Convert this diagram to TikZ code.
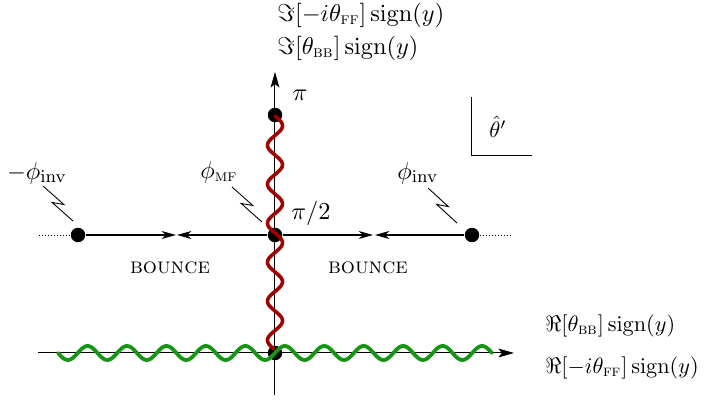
\documentclass[tikz,border=0pt]{standalone}
\usepackage{amsmath}
\usetikzlibrary{arrows.meta,calc}
\definecolor{wred}{RGB}{160,0,0}
\definecolor{wgreen}{RGB}{20,150,20}
\newcommand{\zapline}[2]{\draw[zap] (#1) -- ($(#1)!0.6!(#2)!1.7pt!90:(#2)$) -- ($(#1)!0.4!(#2)!1.7pt!-90:(#2)$) -- (#2);}
\begin{document}
\begin{tikzpicture}[x=0.45pt,y=-0.45pt,
 dot/.style={circle,fill=black,inner sep=0pt,minimum size=6.5pt},
 axis/.style={line width=0.45pt,-{Stealth[length=7pt,width=4pt,inset=1.5pt]}},
 bounce/.style={line width=0.5pt,-{Stealth[length=6.5pt,width=3.6pt,inset=2pt]}},
 lab/.style={inner sep=0pt},
 biglab/.style={inner sep=0pt,anchor=west,font=\fontsize{10.8}{13}\selectfont},
 rlab/.style={inner sep=0pt,anchor=west,font=\fontsize{10.4}{13}\selectfont},
 midlab/.style={inner sep=0pt,font=\fontsize{10.8}{13}\selectfont},
 wave/.style={line join=round,line cap=round},
 zap/.style={line width=0.4pt},
 dotline/.style={line width=0.4pt,dash pattern=on 0.45pt off 0.9pt}]
\useasboundingbox (0,0) rectangle (709,401);
% dots
\node[dot] (pi) at (275,115) {};
\node[dot] (pihalf) at (275,235) {};
\node[dot] (ml) at (78,235) {};
\node[dot] (mr) at (472,235) {};
\node[dot] (o) at (275,353) {};
% axes
\coordinate (xl) at (38,353);
\coordinate (xr) at (514,353);
\coordinate (yb) at (275,395);
\coordinate (yt) at (275,72);
\draw[axis] (xl) -- (xr);
\draw[axis] (yb) -- (yt);
% bounce arrows
\coordinate (b1) at (176,235);
\coordinate (b2) at (177,235);
\coordinate (b3) at (373,235);
\coordinate (b4) at (375,235);
\draw[bounce] (ml) -- (b1);
\draw[bounce] (pihalf) -- (b2);
\draw[bounce] (pihalf) -- (b3);
\draw[bounce] (mr) -- (b4);
% dotted ends
\coordinate (dl) at (38,235);
\coordinate (dr) at (511,235);
\draw[dotline] (ml) -- (dl);
\draw[dotline] (mr) -- (dr);
% waves
\draw[wave,wred,line width=1.6pt] plot[domain=116:349,samples=240] ({275+7.5*sin((\x-116)/39*360)},\x);
\draw[wave,wgreen,line width=1.7pt] plot[domain=58:492,samples=400] (\x,{353+7*sin((\x-58)/39.45*360)});
% labels
\node[biglab] (imff) at (277,15) {$\Im[-i\theta_{\textsc{ff}}]\,\mathrm{sign}(y)$};
\node[biglab] (imbb) at (277,48) {$\Im[\theta_{\textsc{bb}}]\,\mathrm{sign}(y)$};
\node[rlab] (rebb) at (545,326) {$\Re[\theta_{\textsc{bb}}]\,\mathrm{sign}(y)$};
\node[rlab] (reff) at (545,368) {$\Re[-i\theta_{\textsc{ff}}]\,\mathrm{sign}(y)$};
\node[midlab] (mphi) at (37,173) {$-\phi_{\mathrm{inv}}$};
\node[midlab] (phimf) at (219,172) {$\phi_{\textsc{mf}}$};
\node[midlab] (phiinv) at (418,173) {$\phi_{\mathrm{inv}}$};
\node[midlab] (pilab) at (300,95) {$\pi$};
\node[midlab] (pihlab) at (311,213) {$\pi/2$};
\node[lab] (bnl) at (170,268) {\textsc{bounce}};
\node[lab] (bnr) at (368,268) {\textsc{bounce}};
\node[lab] (th) at (498,127) {$\hat{\theta}'$};
\coordinate (c1) at (472,97);
\coordinate (c2) at (472,156);
\coordinate (c3) at (532,156);
\draw[line width=0.45pt] (c1) -- (c2) -- (c3);
% lightning pointers
\coordinate (z1a) at (43,186); \coordinate (z1b) at (73,221);
\coordinate (z2a) at (232,187); \coordinate (z2b) at (262,222);
\coordinate (z3a) at (428,188); \coordinate (z3b) at (457,223);
\zapline{z1a}{z1b}
\zapline{z2a}{z2b}
\zapline{z3a}{z3b}
\end{tikzpicture}
\end{document}
